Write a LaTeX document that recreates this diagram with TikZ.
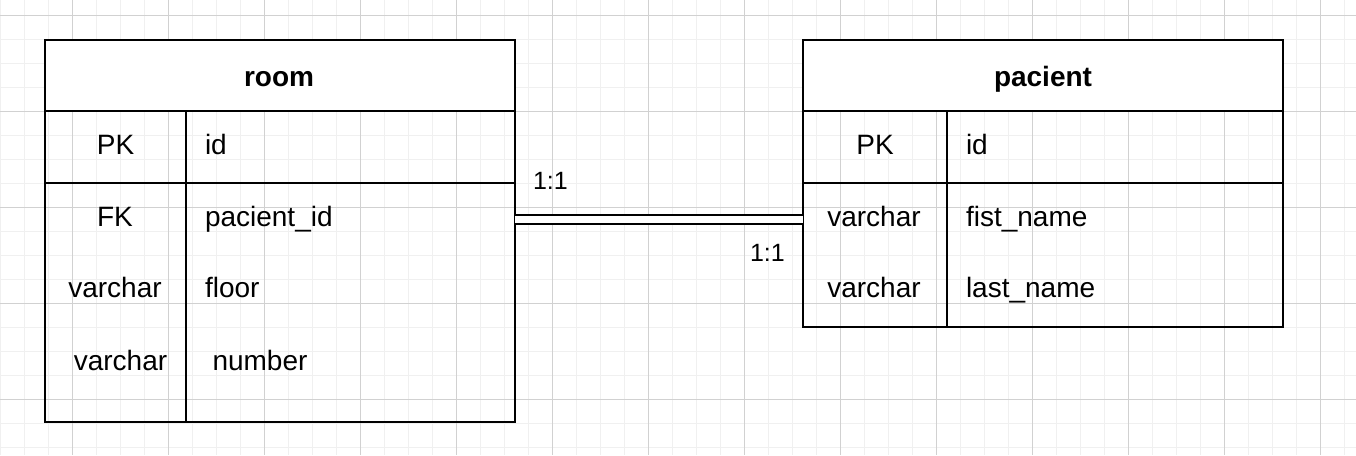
\documentclass[tikz,border=0pt]{standalone}
\usepackage{fontspec}
\setmainfont{Liberation Sans}
\begin{document}
\begin{tikzpicture}[x=1pt,y=-1pt,
  minorgrid/.style={draw=black!6,line width=1pt},
  majorgrid/.style={draw=black!18,line width=1pt},
  tablebox/.style={draw=black,line width=2pt,inner sep=0pt,outer sep=0pt,anchor=north west},
  tableline/.style={draw=black,line width=2pt},
  rowarea/.style={inner sep=0pt,outer sep=0pt,minimum height=72pt},
  celltxt/.style={inner sep=0pt,outer sep=0pt,font=\fontsize{28}{34}\selectfont},
  headtxt/.style={inner sep=0pt,outer sep=0pt,font=\fontsize{28}{34}\selectfont\bfseries},
  cardtxt/.style={inner sep=0pt,outer sep=0pt,font=\fontsize{25}{30}\selectfont,anchor=base west},
  relline/.style={draw=black,line width=2pt,double=white,double distance=7pt}
]
\useasboundingbox (0,0) rectangle (1356,455);
\fill[white] (0,0) rectangle (1356,455);
% grid
\foreach \x in {0,24,...,1356} \draw[minorgrid] (\x,0) -- (\x,455);
\foreach \y in {15,39,...,455} \draw[minorgrid] (0,\y) -- (1356,\y);
\foreach \x in {72,168,...,1356} \draw[majorgrid] (\x,0) -- (\x,455);
\foreach \y in {15,111,...,455} \draw[majorgrid] (0,\y) -- (1356,\y);

% room table
\node[tablebox,minimum width=470pt,minimum height=311pt] (roombody) at (45,111) {};
\node[tablebox,fill=white,minimum width=470pt,minimum height=71pt] (roomhead) at (45,40) {};
\draw[tableline] (186,111) -- (186,422);
\draw[tableline] (45,183) -- (515,183);
\node[rowarea,minimum width=470pt] (roomfk) at (280,219) {};
\node[headtxt,anchor=base] (roomtitle) at (279,86.7) {room};
\node[celltxt,anchor=base] (r1t) at (115.5,154) {PK};
\node[celltxt,anchor=base west] (r1n) at (205,154) {id};
\node[celltxt,anchor=base] (r2t) at (115,226) {FK};
\node[celltxt,anchor=base west] (r2n) at (205,226) {pacient\_id};
\node[celltxt,anchor=base] (r3t) at (115,297.5) {varchar};
\node[celltxt,anchor=base west] (r3n) at (205,297.5) {floor};
\node[celltxt,anchor=base] (r4t) at (120.5,370) {varchar};
\node[celltxt,anchor=base west] (r4n) at (212.5,370) {number};

% pacient table
\node[tablebox,minimum width=480pt,minimum height=216pt] (pacbody) at (803,111) {};
\node[tablebox,fill=white,minimum width=480pt,minimum height=71pt] (pachead) at (803,40) {};
\draw[tableline] (947,111) -- (947,327);
\draw[tableline] (803,183) -- (1283,183);
\node[rowarea,minimum width=480pt] (pacfn) at (1043,219) {};
\node[headtxt,anchor=base] (pactitle) at (1043,86.7) {pacient};
\node[celltxt,anchor=base] (p1t) at (875,154) {PK};
\node[celltxt,anchor=base west] (p1n) at (966,154) {id};
\node[celltxt,anchor=base] (p2t) at (874,226) {varchar};
\node[celltxt,anchor=base west] (p2n) at (966,226) {fist\_name};
\node[celltxt,anchor=base] (p3t) at (874,297.5) {varchar};
\node[celltxt,anchor=base west] (p3n) at (966,297.5) {last\_name};

% relation
\draw[relline] (roomfk.east) -- (pacfn.west);
\node[cardtxt] (card1) at (533,189.3) {1:1};
\node[cardtxt] (card2) at (750,261.7) {1:1};
\end{tikzpicture}
\end{document}
